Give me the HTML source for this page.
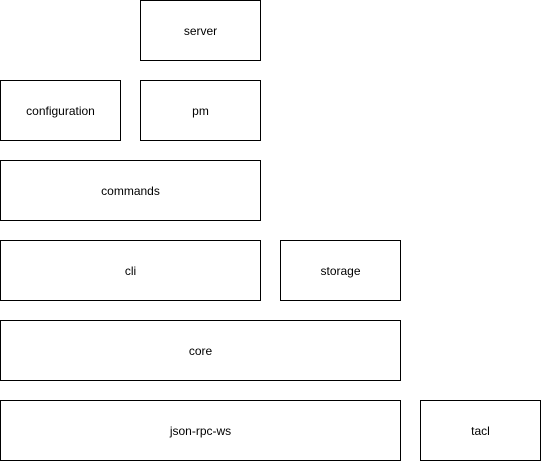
<!DOCTYPE html>
<html><head><style>
html,body{margin:0;padding:0;background:#fff;width:541px;height:461px;overflow:hidden}
svg{display:block}
text{font-family:"Liberation Sans",Arial,sans-serif;font-size:12px;fill:#000}
rect{fill:#fff;stroke:#000;stroke-width:1}
</style></head><body>
<svg width="541" height="461" viewBox="0 0 541 461">
<rect x="140.5" y="0.5" width="120" height="60"/><text x="200.5" y="35" text-anchor="middle">server</text>
<rect x="0.5" y="80.5" width="120" height="60"/><text x="60.5" y="115" text-anchor="middle">configuration</text>
<rect x="140.5" y="80.5" width="120" height="60"/><text x="200.5" y="115" text-anchor="middle">pm</text>
<rect x="0.5" y="160.5" width="260" height="60"/><text x="130.5" y="195" text-anchor="middle">commands</text>
<rect x="0.5" y="240.5" width="260" height="60"/><text x="130.5" y="275" text-anchor="middle">cli</text>
<rect x="280.5" y="240.5" width="120" height="60"/><text x="340.5" y="275" text-anchor="middle">storage</text>
<rect x="0.5" y="320.5" width="400" height="60"/><text x="200.5" y="355" text-anchor="middle">core</text>
<rect x="0.5" y="400.5" width="400" height="60"/><text x="200.5" y="435" text-anchor="middle">json-rpc-ws</text>
<rect x="420.5" y="400.5" width="120" height="60"/><text x="480.5" y="435" text-anchor="middle">tacl</text>
</svg>
</body></html>
